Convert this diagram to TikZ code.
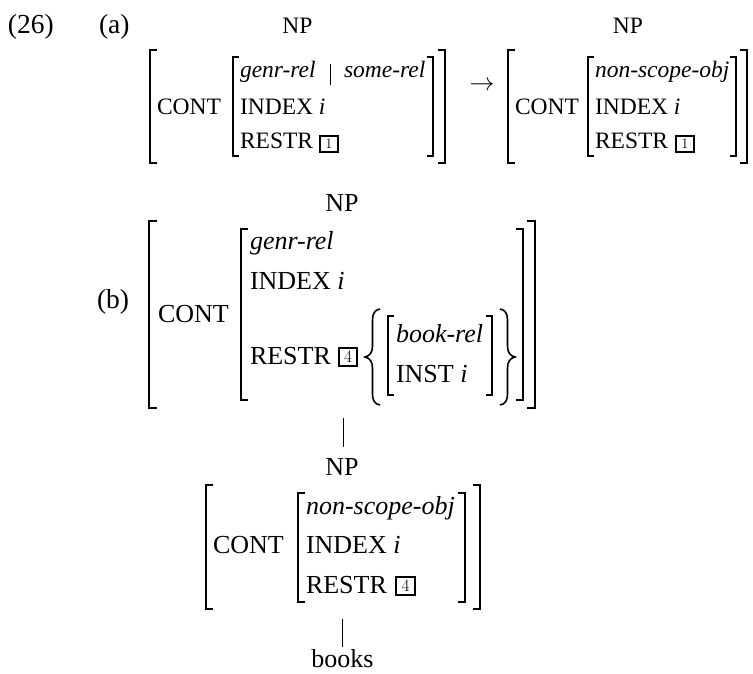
\documentclass[tikz,border=0pt]{standalone}
\usepackage[no-math]{fontspec}
\setmainfont{Liberation Serif}
\newcommand\fB{\fontsize{26}{31}\selectfont}
\newcommand\fL{\fontsize{27.5}{32}\selectfont}
\newcommand\fA{\fontsize{23.5}{28}\selectfont}
\newcommand\fD{\fontsize{17}{17}\selectfont}
\newcommand\fDa{\fontsize{15.5}{15.5}\selectfont}
\begin{document}
\begin{tikzpicture}[x=1pt,y=-1pt,
  t/.style={anchor=base west,inner sep=0pt,outer sep=0pt,font=\fB},
  ta/.style={t,font=\fA},
  tl/.style={t,font=\fL},
  tc/.style={anchor=base,inner sep=0pt,outer sep=0pt,font=\fB},
  tca/.style={tc,font=\fA},
  brk/.style={line width=1.5pt},
  tagbox/.style={draw,line width=1.6pt,inner sep=0pt,minimum width=18.5pt,minimum height=18.5pt,font=\fD},
  tagboxa/.style={tagbox,minimum width=17.5pt,minimum height=16.5pt,font=\fDa},
  bar/.style={line width=0.9pt},
  curly/.style={line width=1.6pt}]
\useasboundingbox (0,0) rectangle (753,673);

% labels
\node[tl] (l26) at (8,33) {(26)};
\node[tl] (la) at (99,33) {(a)};
\node[tl] (lb) at (97,308) {(b)};

% (a) left AVM
\node[tca] (npa1) at (297.5,33) {NP};
\draw[brk] (157,50) -- (150,50) -- (150,163) -- (157,163);
\draw[brk] (438,50) -- (445,50) -- (445,163) -- (438,163);
\node[ta] (conta1) at (157,114) {CONT};
\draw[brk] (239,57) -- (233,57) -- (233,156) -- (239,156);
\draw[brk] (427,57) -- (433,57) -- (433,156) -- (427,156);
\node[ta] (ga1) at (240,77) {\itshape genr-rel};
\draw[bar] (330,64) -- (330,85);
\node[ta] (sa1) at (344,77) {\itshape some-rel};
\node[ta] (ia1) at (240,114) {INDEX \itshape i};
\node[ta] (ra1) at (240,148) {RESTR};
\node[tagboxa] (ba1) at (329,144) {$1$};

% arrow
\node[inner sep=0pt,font=\fA] (arr) at (482,86) {$\rightarrow$};

% (a) right AVM
\node[tca] (npa2) at (628,33) {NP};
\draw[brk] (515,50) -- (508,50) -- (508,163) -- (515,163);
\draw[brk] (740,50) -- (747,50) -- (747,163) -- (740,163);
\node[ta] (conta2) at (515,114) {CONT};
\draw[brk] (594,57) -- (588,57) -- (588,156) -- (594,156);
\draw[brk] (730,57) -- (736,57) -- (736,156) -- (730,156);
\node[ta] (na2) at (595,77) {\itshape non-scope-obj};
\node[ta] (ia2) at (595,114) {INDEX \itshape i};
\node[ta] (ra2) at (595,148) {RESTR};
\node[tagboxa] (ba2) at (685,144) {$1$};

% (b) AVM
\node[tc] (npb) at (342,211) {NP};
\draw[brk] (157,221) -- (149,221) -- (149,408) -- (157,408);
\draw[brk] (527,221) -- (535,221) -- (535,408) -- (527,408);
\node[t] (contb) at (158,322) {CONT};
\draw[brk] (248,229) -- (241,229) -- (241,400) -- (248,400);
\draw[brk] (516,229) -- (523,229) -- (523,400) -- (516,400);
\node[t] (gb) at (250,249) {\itshape genr-rel};
\node[t] (ib) at (250,289) {INDEX \itshape i};
\node[t] (rb) at (250,364) {RESTR};
\node[tagbox] (bb) at (348,357) {$4$};
\draw[curly] (380,309) .. controls (375,310) and (372.5,313) .. (372.5,320) -- (372.5,346) .. controls (372.5,352) and (370,356) .. (365,357) .. controls (370,358) and (372.5,362) .. (372.5,368) -- (372.5,394) .. controls (372.5,401) and (375,404) .. (380,405);
\draw[brk] (394,316) -- (388,316) -- (388,395) -- (394,395);
\draw[brk] (486,316) -- (492,316) -- (492,395) -- (486,395);
\node[t] (bkb) at (396,342) {\itshape book-rel};
\node[t] (inb) at (396,382) {INST \itshape i};
\draw[curly] (500,309) .. controls (505,310) and (507.5,313) .. (507.5,320) -- (507.5,346) .. controls (507.5,352) and (510,356) .. (515,357) .. controls (510,358) and (507.5,362) .. (507.5,368) -- (507.5,394) .. controls (507.5,401) and (505,404) .. (500,405);

% branch
\coordinate (b1) at (343,418);
\coordinate (b2) at (343,447);
\draw[bar] (b1) -- (b2);

% bottom AVM
\node[tc] (npc) at (342,475) {NP};
\draw[brk] (213,485) -- (206,485) -- (206,609) -- (213,609);
\draw[brk] (473,485) -- (480,485) -- (480,609) -- (473,609);
\node[t] (contc) at (213,553) {CONT};
\draw[brk] (305,493) -- (298,493) -- (298,602) -- (305,602);
\draw[brk] (458,493) -- (465,493) -- (465,602) -- (458,602);
\node[t] (nc) at (306,514) {\itshape non-scope-obj};
\node[t] (ic) at (306,553) {INDEX \itshape i};
\node[t] (rc) at (306,593) {RESTR};
\node[tagbox] (bc) at (405.5,586) {$4$};

% branch
\coordinate (c1) at (342,619);
\coordinate (c2) at (342,647);
\draw[bar] (c1) -- (c2);
\node[tc] (books) at (342.5,667) {books};
\end{tikzpicture}
\end{document}
